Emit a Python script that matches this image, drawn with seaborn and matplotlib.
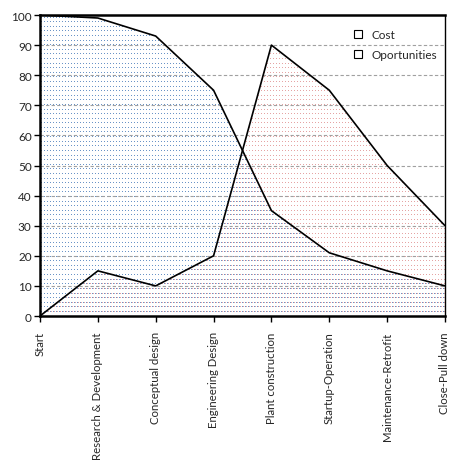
import matplotlib
matplotlib.use("Agg")
import matplotlib.pyplot as plt
import seaborn as sns
import pandas as pd
import numpy as np
from matplotlib.lines import Line2D
from matplotlib.colors import to_rgba

stages = ["Start", "Research & Development", "Conceptual design", "Engineering Design",
          "Plant construction", "Startup-Operation", "Maintenance-Retrofit", "Close-Pull down"]
cost = [0, 15, 10, 20, 90, 75, 50, 30]
opportunities = [100, 99, 93, 75, 35, 21, 15, 10]
yticks = [0, 10, 20, 30, 40, 50, 60, 70, 80, 90, 100]

sns.set_theme(style="white")
plt.rcParams['font.family'] = ['Lato', 'DejaVu Sans']

W, H = 449, 464
fig = plt.figure(figsize=(W / 100, H / 100), dpi=100)
fig.patch.set_facecolor("white")
ax_px = (40, 16, 405, 301)  # left, top, width, height in pixels
ax = fig.add_axes([ax_px[0] / W, 1 - (ax_px[1] + ax_px[3]) / H, ax_px[2] / W, ax_px[3] / H])
ax.set_zorder(1)
ax.patch.set_alpha(0)

x = np.arange(len(stages))
n = len(stages)
df = pd.DataFrame({"x": np.concatenate([x, x]),
                   "v": opportunities + cost,
                   "s": ["Opportunities"] * n + ["Cost"] * n})

for yv in yticks[1:-1]:
    ax.axhline(yv, color="#a0a0a0", lw=0.8, ls=(0, (3, 2)), zorder=1)


def dot_texture(color, xoff, yoff, alpha):
    h, w = ax_px[3], ax_px[2]
    img = np.zeros((h, w, 4))
    rgba = to_rgba(color, alpha)
    rows = np.unique((np.arange(yoff, h, 4.6)).astype(int))
    cols = np.arange(xoff, w, 3)
    for r in rows:
        img[r, cols] = rgba
    return img


ax.set_xlim(0, n - 1)
ax.set_ylim(0, 100)

poly_o = ax.fill_between(x, opportunities, 0, facecolor="none", lw=0, zorder=2)
poly_c = ax.fill_between(x, cost, 0, facecolor="none", lw=0, zorder=2)

yo = H - (ax_px[1] + ax_px[3])
im_o = fig.figimage(dot_texture("#4f81bd", 1, 2, 0.85), xo=ax_px[0], yo=yo, origin="upper", zorder=0.5)
im_o.set_clip_path(poly_o.get_paths()[0], transform=ax.transData)
im_c = fig.figimage(dot_texture("#e39a9a", 2, 2, 0.9), xo=ax_px[0], yo=yo, origin="upper", zorder=0.6)
im_c.set_clip_path(poly_c.get_paths()[0], transform=ax.transData)

sns.lineplot(data=df, x="x", y="v", hue="s", palette={"Opportunities": "black", "Cost": "black"},
             lw=1.2, legend=False, ax=ax, zorder=3)

ax.set_xlim(0, n - 1)
ax.set_ylim(0, 100)
ax.set_yticks(yticks)
ax.set_yticklabels([str(v) for v in yticks], fontsize=8.5)
ax.set_xticks(x)
ax.set_xticklabels(stages, rotation=90, fontsize=8.2)
ax.set_xlabel("")
ax.set_ylabel("")
ax.tick_params(axis="y", length=4, width=1, color="black", direction="out", left=True, pad=2)
ax.tick_params(axis="x", length=4, width=1, color="black", direction="out", bottom=True, pad=7)
for side in ["left", "bottom", "top"]:
    ax.spines[side].set_linewidth(1.8)
    ax.spines[side].set_color("black")
ax.spines["right"].set_linewidth(1.0)
ax.spines["right"].set_color("black")

handles = [Line2D([], [], marker="s", ls="none", markerfacecolor="white",
                  markeredgecolor="black", markersize=6, markeredgewidth=0.8),
           Line2D([], [], marker="s", ls="none", markerfacecolor="white",
                  markeredgecolor="black", markersize=6, markeredgewidth=0.8)]
leg = ax.legend(handles, ["Cost", "Oportunities"], loc="upper left",
                bbox_to_anchor=(0.745, 0.97), frameon=False, fontsize=8.5,
                handletextpad=0.1, labelspacing=0.8, borderaxespad=0)

fig.savefig("out.png", dpi=100)
